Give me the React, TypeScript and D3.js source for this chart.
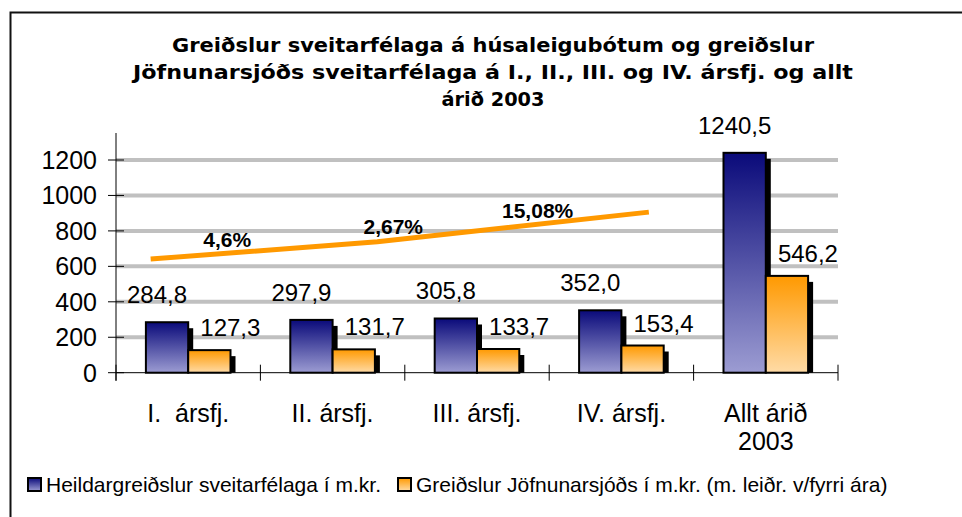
import React from 'react';
import * as d3 from 'd3';

const titleLines = [
  'Greiðslur sveitarfélaga á húsaleigubótum og greiðslur',
  'Jöfnunarsjóðs sveitarfélaga á I., II., III. og IV. ársfj. og allt',
  'árið 2003',
];
const titleWidths = [642, 720, 103];
const categories = ['I.  ársfj.', 'II. ársfj.', 'III. ársfj.', 'IV. ársfj.', 'Allt árið\n2003'];
const totalPayments = [284.8, 297.9, 305.8, 352.0, 1240.5];
const equalizationPayments = [127.3, 131.7, 133.7, 153.4, 546.2];
const seriesNames = [
  'Heildargreiðslur sveitarfélaga í m.kr.',
  'Greiðslur Jöfnunarsjóðs í m.kr. (m. leiðr. v/fyrri ára)',
];
const yTicks = [0, 200, 400, 600, 800, 1000, 1200];
const trendX = [0.24, 1.81, 3.69];
const trendY = [641, 739, 906];
const growthLabels = ['4,6%', '2,67%', '15,08%'];
const growthAt = [0.77, 1.92, 2.92];

const W = 962;
const H = 517;
const FONT = '"Liberation Sans", Arial, sans-serif';

export default function App() {
  const x = d3.scaleLinear().domain([0, categories.length]).range([116, 838]);
  const y = d3.scaleLinear().domain([0, 1200]).range([372.7, 160]);
  const barW = 42.3;
  const fmt = (v: number) => d3.format('.1f')(v).replace('.', ',');
  const trendPts: [number, number][] = trendX.map((t, i) => [x(t), y(trendY[i])]);
  const line = d3.line<[number, number]>();
  const trendScale = d3.scaleLinear().domain(trendX).range(trendY);
  const base = y(0);
  const series = [
    { values: totalPayments, grad: 'gBlue', off: -1, ldx: -10, ldy: -19 },
    { values: equalizationPayments, grad: 'gOrange', off: 0, ldx: 21, ldy: -14 },
  ];

  return (
    <svg width={W} height={H} style={{ position: 'absolute', left: 0, top: 0, background: '#fff' }}>
      <defs>
        <linearGradient id="gBlue" x1="0" y1="0" x2="0" y2="1">
          <stop offset="0" stopColor="#0a0a7a" />
          <stop offset="1" stopColor="#9c9cd2" />
        </linearGradient>
        <linearGradient id="gOrange" x1="0" y1="0" x2="0" y2="1">
          <stop offset="0" stopColor="#ff9900" />
          <stop offset="1" stopColor="#ffdba6" />
        </linearGradient>
        <clipPath id="plotClip">
          <rect x={0} y={0} width={W} height={base} />
        </clipPath>
      </defs>
      <rect x={10.5} y={12.5} width={1000} height={600} fill="#fff" stroke="#111" strokeWidth={2} />

      {titleLines.map((t, i) => (
        <text
          key={i}
          x={493}
          y={52 + i * 27}
          textAnchor="middle"
          fontFamily='"DejaVu Sans", Verdana, sans-serif'
          fontWeight="bold"
          fontSize={20}
          textLength={titleWidths[i]}
          lengthAdjust="spacingAndGlyphs"
          fill="#000"
        >
          {t}
        </text>
      ))}

      {/* gridlines */}
      {yTicks.filter((v) => v > 0).map((v) => (
        <line key={v} x1={x(0)} x2={x(categories.length)} y1={y(v)} y2={y(v)} stroke="#c0c0c0" strokeWidth={4} />
      ))}

      {/* y axis */}
      <line x1={x(0)} x2={x(0)} y1={133} y2={base + 8} stroke="#000" strokeWidth={1} />
      {yTicks.map((v) => (
        <g key={v}>
          <line x1={x(0) - 8} x2={x(0) + 8} y1={y(v)} y2={y(v)} stroke="#000" strokeWidth={1} />
          <text x={97} y={y(v) + 9} textAnchor="end" fontFamily={FONT} fontSize={25} fill="#000">
            {v}
          </text>
        </g>
      ))}

      {/* bar shadows */}
      {series.map((s, si) => (
        <g key={si}>
          {s.values.map((v, i) => {
            const bx = x(i + 0.5) + s.off * barW;
            const by = y(v);
            return <rect key={i} x={bx + 5} y={by + 6} width={barW} height={base - by} fill="#000" clipPath="url(#plotClip)" />;
          })}
        </g>
      ))}
      {/* bars */}
      {series.map((s, si) => (
        <g key={'b' + si}>
          {s.values.map((v, i) => {
            const bx = x(i + 0.5) + s.off * barW;
            const by = y(v);
            return (
              <rect key={i} x={bx} y={by} width={barW} height={base - by} fill={`url(#${s.grad})`} stroke="#000" strokeWidth={2} />
            );
          })}
        </g>
      ))}

      {/* x axis */}
      <line x1={x(0)} x2={x(categories.length)} y1={base} y2={base} stroke="#000" strokeWidth={1} />
      {d3.range(categories.length + 1).map((i) => (
        <line key={i} x1={x(i)} x2={x(i)} y1={base - 8} y2={base + 8} stroke="#000" strokeWidth={1} />
      ))}
      {categories.map((c, i) => (
        <text key={i} x={x(i + 0.5)} y={421.7} textAnchor="middle" fontFamily={FONT} fontSize={25} fill="#000" style={{ whiteSpace: 'pre' }}>
          {c.split('\n').map((ln, k) => (
            <tspan key={k} x={x(i + 0.5)} dy={k === 0 ? 0 : 28}>
              {ln}
            </tspan>
          ))}
        </text>
      ))}

      {/* value labels */}
      {series.map((s, si) => (
        <g key={'l' + si}>
          {s.values.map((v, i) => {
            const c = x(i + 0.5) + (s.off + 0.5) * barW;
            return (
              <text key={i} x={c + s.ldx} y={y(v) + s.ldy} textAnchor="middle" fontFamily={FONT} fontSize={24} fill="#000">
                {fmt(v)}
              </text>
            );
          })}
        </g>
      ))}

      {/* trend line */}
      <path d={line(trendPts) || ''} fill="none" stroke="#ff9900" strokeWidth={5} />
      {growthLabels.map((g, i) => (
        <text
          key={i}
          x={x(growthAt[i])}
          y={y(trendScale(growthAt[i])) - 6}
          textAnchor="middle"
          fontFamily={FONT}
          fontWeight="bold"
          fontSize={21}
          fill="#000"
        >
          {g}
        </text>
      ))}

      {/* legend */}
      {seriesNames.map((n, i) => {
        const lx = i === 0 ? 28 : 398;
        return (
          <g key={i}>
            <rect x={lx} y={478} width={13} height={13} fill={`url(#${series[i].grad})`} stroke="#000" strokeWidth={2} />
            <text x={lx + 18} y={492} fontFamily={FONT} fontSize={21} fill="#000">
              {n}
            </text>
          </g>
        );
      })}
    </svg>
  );
}
